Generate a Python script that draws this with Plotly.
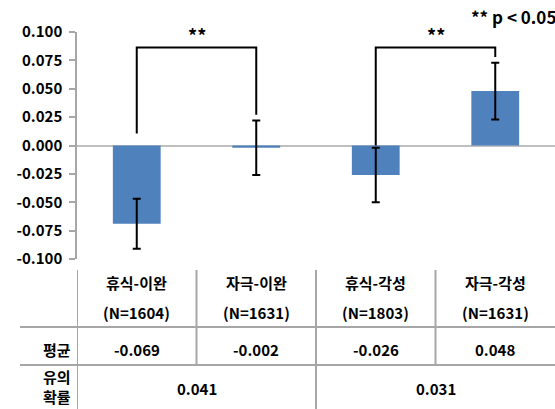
import plotly.graph_objects as go

# Group means, error half-widths and table text
groups = ["휴식-이완", "자극-이완", "휴식-각성", "자극-각성"]
sample_sizes = ["(N=1604)", "(N=1631)", "(N=1803)", "(N=1631)"]
means = [-0.069, -0.002, -0.026, 0.048]
errors = [0.022, 0.024, 0.024, 0.025]
mean_labels = ["-0.069", "-0.002", "-0.026", "0.048"]
p_values = ["0.041", "0.031"]
tick_values = [0.1, 0.075, 0.05, 0.025, 0.0, -0.025, -0.05, -0.075, -0.1]
tick_labels = ["0.100", "0.075", "0.050", "0.025", "0.000",
               "-0.025", "-0.050", "-0.075", "-0.100"]
# significance brackets: (left group, right group, left foot, label)
brackets = [(0, 1, 0.0106, "**"), (2, 3, 0.0, "**")]
legend_note = "** p < 0.05"

FONT = "Noto Sans CJK KR"
BAR = "#4F81BD"
GRID = "#A6A6A6"
W, H = 555, 409
L, R, T, B = 77, 0, 32, 150
PH = H - T - B


def py(pixel_y):
    """Paper y for a pixel row (0 at the top of the page)."""
    return (H - B - pixel_y) / PH


def px(pixel_x):
    return (pixel_x - L) / (W - L - R)


fig = go.Figure()
fig.add_trace(go.Bar(
    x=list(range(len(groups))), y=means, width=0.4,
    marker=dict(color=BAR, line=dict(width=0)),
    error_y=dict(type="data", array=errors, visible=True,
                 color="#000000", thickness=2, width=4),
    hoverinfo="skip",
))

shapes = []
annotations = []

# significance brackets above the bars
top = 0.0863
for a, b, foot, label in brackets:
    right_foot = means[b] + errors[b] + 0.005
    shapes.append(dict(
        type="path", xref="x", yref="y",
        path=f"M {a},{foot} L {a},{top} L {b},{top} L {b},{right_foot}",
        line=dict(color="#000000", width=2),
    ))
    annotations.append(dict(
        x=(a + b) / 2, y=top, xref="x", yref="y", text=label,
        showarrow=False, yanchor="bottom", yshift=-2,
        font=dict(family=FONT, size=18, color="#000000", weight="bold"),
    ))

annotations.append(dict(
    x=1.0, y=py(17), xref="paper", yref="paper", text=legend_note,
    showarrow=False, xanchor="right", yanchor="middle", xshift=3,
    font=dict(family=FONT, size=17, color="#000000", weight="bold"),
))

# table under the chart
line = dict(color=GRID, width=2)
for y_pix in (327, 365):
    shapes.append(dict(type="line", xref="paper", yref="paper",
                       x0=px(20), x1=1.0, y0=py(y_pix), y1=py(y_pix), line=line))
bottom = py(H + 2)
shapes.append(dict(type="line", xref="x", yref="paper",
                   x0=-0.5, x1=-0.5, y0=py(270), y1=bottom, line=line))
shapes.append(dict(type="line", xref="x", yref="paper",
                   x0=1.5, x1=1.5, y0=py(270), y1=bottom, line=line))
for xv in (0.5, 2.5):
    shapes.append(dict(type="line", xref="x", yref="paper",
                       x0=xv, x1=xv, y0=py(270), y1=py(365), line=line))

cell_font = dict(family=FONT, size=15, color="#000000", weight="bold")
for i, g in enumerate(groups):
    annotations.append(dict(x=i, y=py(282), xref="x", yref="paper", text=g,
                            showarrow=False, yanchor="middle", font=cell_font))
    annotations.append(dict(x=i, y=py(312), xref="x", yref="paper",
                            text=sample_sizes[i], showarrow=False,
                            yanchor="middle", font=cell_font))
    annotations.append(dict(x=i, y=py(349), xref="x", yref="paper",
                            text=mean_labels[i], showarrow=False,
                            yanchor="middle", font=cell_font))
for k, p in enumerate(p_values):
    annotations.append(dict(x=2 * k + 0.5, y=py(388), xref="x", yref="paper",
                            text=p, showarrow=False, yanchor="middle",
                            font=cell_font))
annotations.append(dict(x=px(73), y=py(349), xref="paper", yref="paper",
                        text="평균", showarrow=False, xanchor="right",
                        yanchor="middle", font=cell_font))
annotations.append(dict(x=px(73), y=py(386), xref="paper", yref="paper",
                        text="유의<br>확률", showarrow=False, xanchor="right",
                        yanchor="middle", align="right", font=cell_font))

fig.update_layout(
    width=W, height=H,
    margin=dict(l=L, r=R, t=T, b=B, pad=0),
    paper_bgcolor="#FFFFFF", plot_bgcolor="#FFFFFF",
    showlegend=False,
    bargap=0.6,
    xaxis=dict(range=[-0.5, 3.5], showticklabels=False, showgrid=False,
               zeroline=False, showline=False, ticks=""),
    yaxis=dict(range=[-0.1, 0.1], tickvals=tick_values, ticktext=tick_labels,
               showgrid=False, zeroline=True, zerolinecolor="#BFBFBF",
               zerolinewidth=2, showline=True, linecolor=GRID, linewidth=1.5,
               ticks="outside", ticklen=6, tickcolor=GRID, tickwidth=1.5,
               ticklabelstandoff=4,
               tickfont=dict(family=FONT, size=15, color="#000000",
                             weight="bold")),
    shapes=shapes,
    annotations=annotations,
)

fig.write_html("out.html")
